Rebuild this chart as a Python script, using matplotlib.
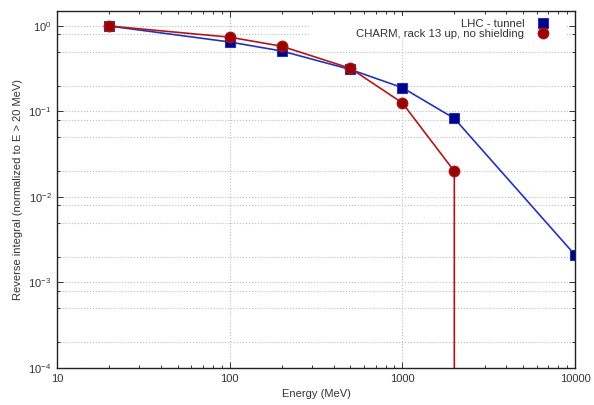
import matplotlib
matplotlib.use("Agg")
import matplotlib.pyplot as plt
from matplotlib.patches import Rectangle
from matplotlib.ticker import LogLocator, NullFormatter

plt.rcParams['font.family'] = ['Liberation Sans', 'DejaVu Sans']

# data
lhc_e = [20, 100, 200, 500, 1000, 2000, 10000]
lhc_v = [1.0, 0.65, 0.51, 0.31, 0.19, 0.083, 0.0021]

charm_e = [20, 100, 200, 500, 1000, 2000, 2000]
charm_v = [1.0, 0.74, 0.58, 0.32, 0.126, 0.02, 0.0]   # last point falls to zero

fig = plt.figure(figsize=(5.94, 4.05), dpi=100)
ax = fig.add_axes([0.096, 0.0914, 0.872, 0.8816])
ax.set_xscale('log')
ax.set_yscale('log', nonpositive='clip')

# lines
ax.plot(lhc_e, lhc_v, '-', color='#2233bb', lw=1.2, zorder=3)
ax.plot(charm_e, charm_v, '-', color='#b01818', lw=1.2, zorder=3)
# markers
ax.plot(lhc_e, lhc_v, 's', ms=6.5, color='#000088', mec='#2233bb', mew=0.8,
        ls='none', zorder=4, label='LHC - tunnel')
ax.plot(charm_e[:-1], charm_v[:-1], 'o', ms=7.5, color='#990000', mec='#aa1111',
        ls='none', zorder=5, label='CHARM, rack 13 up, no shielding')

ax.set_xlim(10, 10000)
ax.set_ylim(1e-4, 1.5)

ax.yaxis.set_minor_locator(LogLocator(base=10, subs=(0.2, 0.5, 0.8), numticks=20))
ax.yaxis.set_minor_formatter(NullFormatter())
ax.xaxis.set_minor_locator(LogLocator(base=10, subs=(2, 3, 4, 5, 6, 7, 8, 9), numticks=20))
ax.xaxis.set_minor_formatter(NullFormatter())
ax.set_xticks([10, 100, 1000, 10000])
ax.set_xticklabels(['10', '100', '1000', '10000'])

ax.tick_params(which='both', direction='in', top=True, right=True, labelsize=8,
               labelcolor='#333333', width=0.7, color='#333333')
ax.tick_params(which='major', length=4, pad=4)
ax.tick_params(which='minor', length=2.5)

ax.grid(True, which='major', axis='x', ls=':', color='#bbbbbb', lw=0.8)
ax.grid(True, which='both', axis='y', ls=':', color='#bbbbbb', lw=0.8)
ax.set_axisbelow(True)

# white key box hiding the grid behind the legend (gnuplot style), leaving the ticks visible
ax.add_patch(Rectangle((0.488, 0.924), 0.496, 0.062, transform=ax.transAxes,
                       facecolor='white', edgecolor='none', zorder=1))

for s in ax.spines.values():
    s.set_linewidth(1.0)
    s.set_color('#222222')
    s.set_zorder(6)

ax.set_xlabel('Energy (MeV)', fontsize=8, color='#333333')
ax.set_ylabel('Reverse integral (normalized to E > 20 MeV)', fontsize=8, color='#333333')

ax.legend(loc='upper right', bbox_to_anchor=(0.975, 1.0), frameon=False,
          markerfirst=False, fontsize=8.2, handletextpad=0.6, labelspacing=0.05,
          borderaxespad=0.3, labelcolor='#333333')

fig.savefig('out.png', dpi=100)
